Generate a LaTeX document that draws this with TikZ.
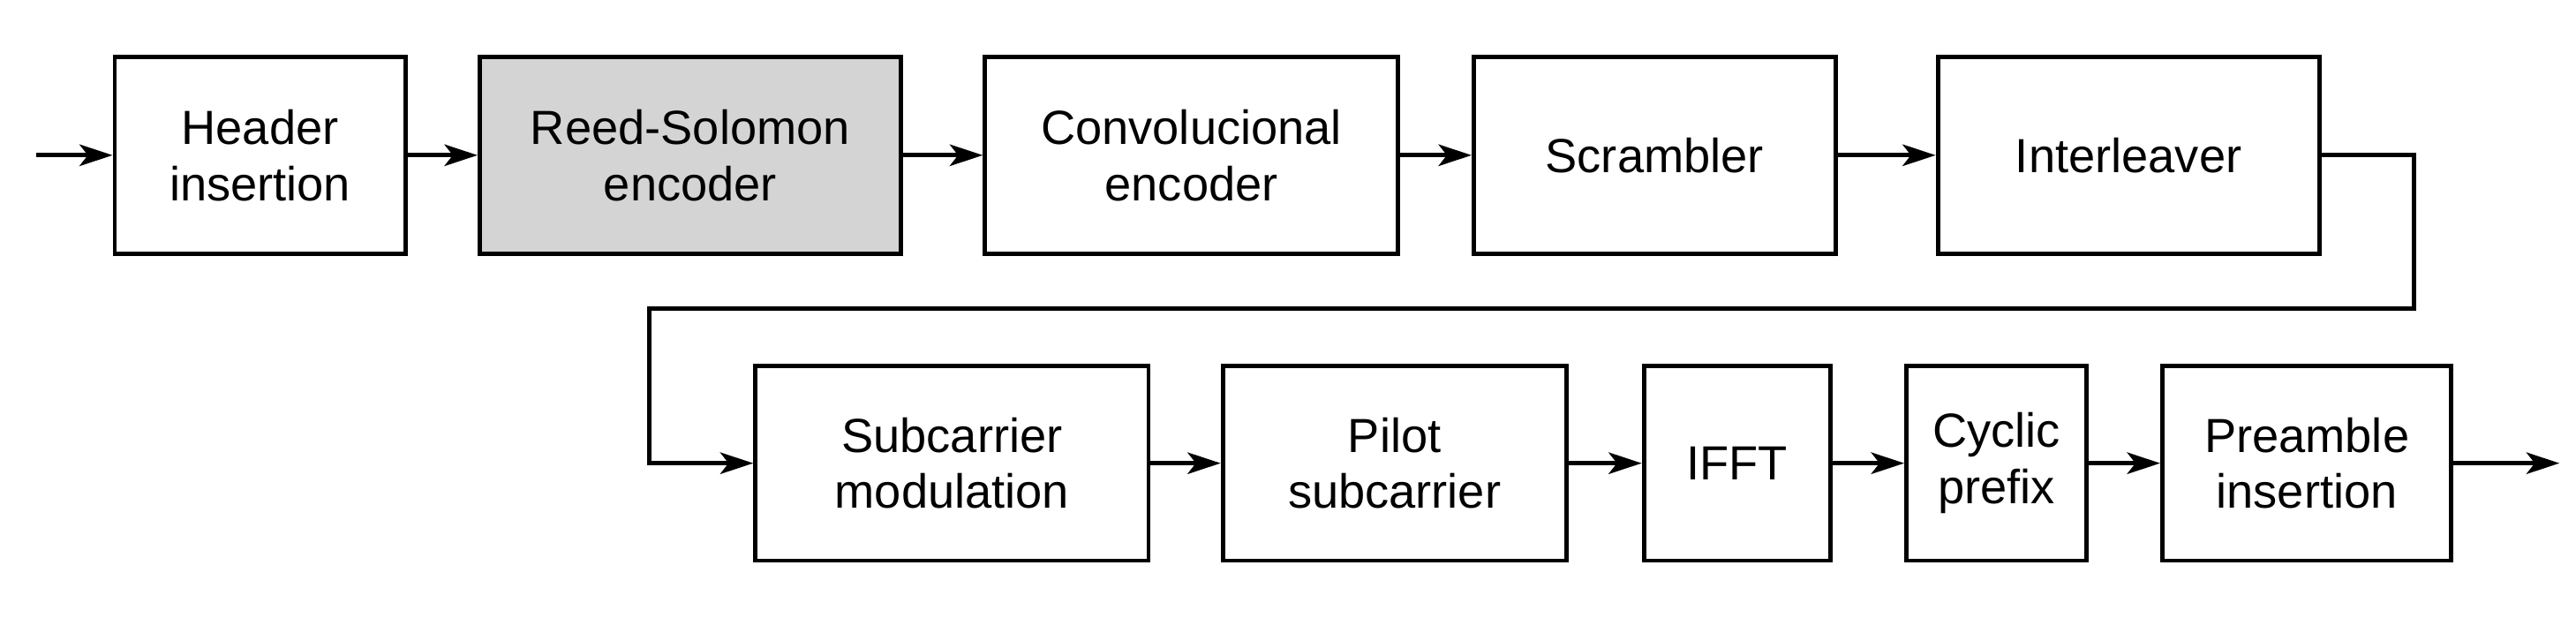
\documentclass[tikz,border=0pt]{standalone}
\usepackage{fontspec}
\setmainfont{Liberation Sans}
\usetikzlibrary{arrows.meta}
\begin{document}
\begin{tikzpicture}[x=1pt,y=-1pt,
  blk/.style={draw,line width=2.6pt,align=center,font=\fontsize{29}{34}\selectfont,inner sep=0pt},
  arr/.style={line width=2.6pt,-{Stealth[length=20pt,width=13pt,inset=5pt]}}]
\useasboundingbox (0,0) rectangle (1560,374);
\node[blk,minimum width=176,minimum height=119] (h) at (157.5,94) {Header\\insertion};
\node[blk,minimum width=255,minimum height=119,fill=black!17] (rs) at (418,94) {Reed-Solomon\\encoder};
\node[blk,minimum width=250,minimum height=119] (cv) at (721.5,94) {Convolucional\\encoder};
\node[blk,minimum width=219,minimum height=119] (sc) at (1002,94) {Scrambler};
\node[blk,minimum width=231,minimum height=119] (il) at (1289,94) {Interleaver};
\node[blk,minimum width=238,minimum height=118] (sm) at (576.5,280.5) {Subcarrier\\modulation};
\node[blk,minimum width=208,minimum height=118] (ps) at (844.5,280.5) {Pilot\\subcarrier};
\node[blk,minimum width=113,minimum height=118] (if) at (1052,280.5) {IFFT};
\node[blk,minimum width=109,minimum height=118] (cp) at (1209,280.5) {Cyclic\\prefix};
\node[blk,minimum width=175,minimum height=118] (pr) at (1397,280.5) {Preamble\\insertion};
\coordinate (in) at (22,94);
\coordinate (out) at (1550,280.5);
\draw[arr] (in) -- (h);
\draw[arr] (h) -- (rs);
\draw[arr] (rs) -- (cv);
\draw[arr] (cv) -- (sc);
\draw[arr] (sc) -- (il);
\draw[arr] (il.east) -- (1462,94) -- (1462,187) -- (393,187) -- (393,280.5) -- (sm.west);
\draw[arr] (sm) -- (ps);
\draw[arr] (ps) -- (if);
\draw[arr] (if) -- (cp);
\draw[arr] (cp) -- (pr);
\draw[arr] (pr) -- (out);
\end{tikzpicture}
\end{document}
